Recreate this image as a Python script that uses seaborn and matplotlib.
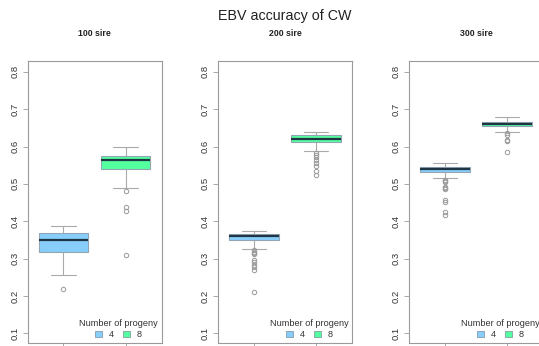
import matplotlib
matplotlib.use("Agg")
import matplotlib.pyplot as plt
from matplotlib.patches import Patch
import seaborn as sns
import pandas as pd

# Panels and groups
panel_titles = ["100 sire", "200 sire", "300 sire"]
progeny = ["4", "8"]

# Five-number summaries (lower whisker, Q1, median, Q3, upper whisker) per panel, per progeny group
summary_100 = [[0.257, 0.318, 0.351, 0.368, 0.387], [0.489, 0.539, 0.563, 0.574, 0.598]]
summary_200 = [[0.327, 0.349, 0.360, 0.366, 0.375], [0.589, 0.613, 0.621, 0.631, 0.638]]
summary_300 = [[0.516, 0.533, 0.540, 0.546, 0.557], [0.640, 0.655, 0.661, 0.667, 0.680]]

# Outlying accuracies per panel, per progeny group
outliers_100 = [[0.218], [0.309, 0.428, 0.437, 0.482]]
outliers_200 = [[0.211, 0.270, 0.277, 0.284, 0.291, 0.297, 0.312, 0.315, 0.318, 0.322],
                [0.523, 0.535, 0.548, 0.557, 0.565, 0.572, 0.578, 0.584]]
outliers_300 = [[0.418, 0.424, 0.451, 0.457, 0.485, 0.488, 0.491, 0.505, 0.508, 0.511],
                [0.585, 0.615, 0.618, 0.632, 0.635]]

y_ticks = [0.1, 0.2, 0.3, 0.4, 0.5, 0.6, 0.7, 0.8]

colors = {"4": "#87CEFA", "8": "#54FF9F"}


def accuracy_values(summary, outliers):
    """Ordered accuracy values whose quartiles and whiskers equal the summary."""
    wlo, q1, med, q3, whi = summary
    m = len(outliers) + 1
    return sorted(outliers) + [wlo] + [q1] * m + [med] + [q3] * (2 * m - 1) + [whi]


def panel_frame(summaries, outliers):
    rows = []
    for grp, summ, outs in zip(progeny, summaries, outliers):
        for v in accuracy_values(summ, outs):
            rows.append({"progeny": grp, "accuracy": v})
    return pd.DataFrame(rows)


sns.set_theme(style="white")
plt.rcParams["font.family"] = ["Liberation Sans", "DejaVu Sans"]

W, H = 539, 346
fig = plt.figure(figsize=(W / 100, H / 100), dpi=100)

ax_left_px = [27.5, 218, 409]
ax_w_px = 134
ax_top_px, ax_bot_px = 61, 343

frame_col = "#9a9a9a"
all_summaries = [summary_100, summary_200, summary_300]
all_outliers = [outliers_100, outliers_200, outliers_300]

for i, title in enumerate(panel_titles):
    ax = fig.add_axes([ax_left_px[i] / W, 1 - ax_bot_px / H,
                       ax_w_px / W, (ax_bot_px - ax_top_px) / H])
    df = panel_frame(all_summaries[i], all_outliers[i])
    sns.boxplot(data=df, x="progeny", y="accuracy", hue="progeny",
                order=progeny, hue_order=progeny, palette=colors,
                saturation=1, width=0.8, linewidth=0.8, linecolor="#aaaaaa",
                fliersize=3.2, legend=False, ax=ax,
                flierprops=dict(marker="o", markerfacecolor="none",
                                markeredgecolor="#999999", markeredgewidth=0.7),
                medianprops=dict(color="#1f3444", linewidth=1.6),
                boxprops=dict(edgecolor="#93a5b3"))
    ax.set_xlim(-0.58, 1.58)
    ax.set_ylim(0.074, 0.829)
    ax.set_yticks(y_ticks)
    ax.set_yticklabels([f"{t:.1f}" for t in y_ticks])
    ax.set_xticks([0, 1])
    ax.set_xticklabels(["", ""])
    ax.set_xlabel("")
    ax.set_ylabel("")
    for sp in ax.spines.values():
        sp.set_visible(True)
        sp.set_color(frame_col)
        sp.set_linewidth(0.8)
    ax.tick_params(axis="y", which="major", direction="out", length=3.5,
                   width=0.6, color=frame_col, labelsize=6.8, labelcolor="#333333",
                   pad=2.5, left=True, labelrotation=90)
    for lab in ax.get_yticklabels():
        lab.set_va("center")
    ax.tick_params(axis="x", direction="out", length=3.5, width=0.6,
                   color=frame_col, bottom=True)
    ax.text(0.5, 1 + (ax_top_px - 33.5) / (ax_bot_px - ax_top_px), title,
            transform=ax.transAxes, ha="center", va="center",
            fontsize=6.3, fontweight="bold", color="#222222")

    handles = [Patch(facecolor=colors[g], edgecolor="#7a8a99", linewidth=0.5, label=g)
               for g in progeny]
    leg = ax.legend(handles=handles, title="Number of progeny", ncol=2,
                    loc="lower right", frameon=False, fontsize=6.6,
                    title_fontsize=6.6, handlelength=0.8, handleheight=0.6,
                    handletextpad=0.7, columnspacing=1.0, borderaxespad=0.2,
                    borderpad=0.2, labelspacing=0.2)
    leg.get_title().set_color("#333333")
    for t in leg.get_texts():
        t.set_color("#333333")

fig.text(285 / W, 1 - 16 / H, "EBV accuracy of CW", ha="center", va="center",
         fontsize=10.3, color="#222222")

fig.savefig("out.png", dpi=100)
